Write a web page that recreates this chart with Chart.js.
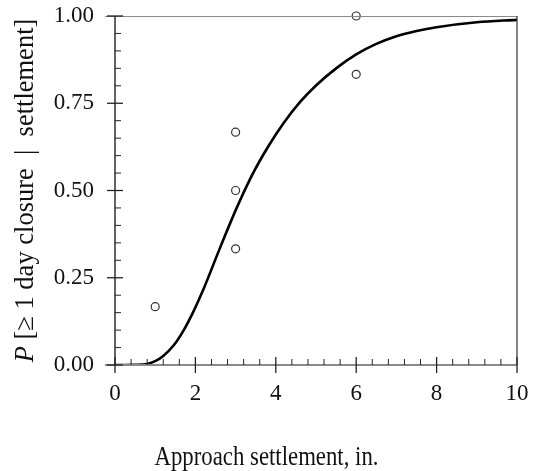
<!DOCTYPE html>
<html>
<head>
<meta charset="utf-8">
<script src="https://cdn.jsdelivr.net/npm/chart.js@4.4.1/dist/chart.umd.min.js"></script>
<style>
html,body{margin:0;padding:0;background:#fff;}
#wrap{width:533px;height:471px;}
</style>
</head>
<body>
<div id="wrap"><canvas id="c" width="533" height="471"></canvas></div>
<script>
// Observed proportions (open circles)
const obsX = [1, 3, 3, 3, 6, 6];
const obsY = [0.167, 0.333, 0.5, 0.667, 0.833, 1.0];

// Fitted curve
const curveX = [0, 0.5, 0.8, 1.0, 1.2, 1.45, 1.7, 1.95, 2.2, 2.6, 3.0, 3.4, 3.8, 4.2, 4.6, 5.0, 5.5, 6.0, 6.5, 7.0, 7.5, 8.0, 9.0, 10];
const curveY = [0, 0.0005, 0.003, 0.011, 0.026, 0.055, 0.098, 0.153, 0.217, 0.332, 0.443, 0.542, 0.624, 0.694, 0.753, 0.801, 0.850, 0.890, 0.920, 0.942, 0.957, 0.968, 0.982, 0.989];

// Axes
const xMajorTicks = [0, 2, 4, 6, 8, 10];
const xMinorStep = 0.4;
const yMajorTicks = [0, 0.25, 0.5, 0.75, 1.0];
const yMinorStep = 0.05;
const xTitle = 'Approach settlement, in.';
const yTitleItalic = 'P';
const yTitleRest = ' [≥ 1 day closure  |  settlement]';

const FONT = '"Liberation Serif", "Times New Roman", serif';

const framePlugin = {
  id: 'frame',
  afterDraw(chart) {
    const {ctx, chartArea: a, scales: {x, y}} = chart;
    ctx.save();
    ctx.lineCap = 'butt';
    ctx.strokeStyle = '#8a8a8a';
    ctx.lineWidth = 1.2;
    ctx.beginPath(); ctx.moveTo(a.left - 10, a.top + 0.5); ctx.lineTo(a.right, a.top + 0.5); ctx.stroke();
    ctx.lineWidth = 1.8;
    ctx.beginPath(); ctx.moveTo(a.left - 10, a.bottom); ctx.lineTo(a.right, a.bottom); ctx.stroke();
    ctx.strokeStyle = '#222';
    ctx.lineWidth = 1.4;
    ctx.beginPath(); ctx.moveTo(a.left, a.top); ctx.lineTo(a.left, a.bottom); ctx.stroke();
    ctx.strokeStyle = '#333';
    ctx.lineWidth = 1.2;
    ctx.beginPath(); ctx.moveTo(a.right, a.top); ctx.lineTo(a.right, a.bottom); ctx.stroke();

    ctx.strokeStyle = '#222';
    ctx.lineWidth = 1.3;
    xMajorTicks.forEach(v => {
      const px = x.getPixelForValue(v);
      ctx.beginPath(); ctx.moveTo(px, a.bottom - 8); ctx.lineTo(px, a.bottom + 8); ctx.stroke();
    });
    ctx.lineWidth = 1;
    for (let i = 0; i * xMinorStep <= x.max + 1e-9; i++) {
      const v = i * xMinorStep;
      if (xMajorTicks.some(m => Math.abs(m - v) < 1e-6)) continue;
      const px = x.getPixelForValue(v);
      ctx.beginPath(); ctx.moveTo(px, a.bottom); ctx.lineTo(px, a.bottom - 6); ctx.stroke();
    }
    ctx.lineWidth = 1.3;
    yMajorTicks.forEach(v => {
      const py = y.getPixelForValue(v);
      ctx.beginPath(); ctx.moveTo(a.left - 8, py); ctx.lineTo(a.left + 8, py); ctx.stroke();
    });
    ctx.lineWidth = 1;
    for (let i = 0; i * yMinorStep <= y.max + 1e-9; i++) {
      const v = i * yMinorStep;
      if (yMajorTicks.some(m => Math.abs(m - v) < 1e-6)) continue;
      const py = y.getPixelForValue(v);
      ctx.beginPath(); ctx.moveTo(a.left, py); ctx.lineTo(a.left + 6, py); ctx.stroke();
    }

    // x title (slightly condensed like the reference)
    ctx.fillStyle = '#111';
    ctx.textBaseline = 'alphabetic';
    ctx.font = '27px ' + FONT;
    const tw = ctx.measureText(xTitle).width;
    const targetW = 224;
    ctx.save();
    ctx.translate(chart.width / 2, 465);
    ctx.scale(targetW / tw, 1);
    ctx.textAlign = 'center';
    ctx.fillText(xTitle, 0, 0);
    ctx.restore();

    // y title (rotated, mixed italic)
    ctx.save();
    ctx.translate(33, (a.top + a.bottom) / 2);
    ctx.rotate(-Math.PI / 2);
    ctx.font = 'italic 26.5px ' + FONT;
    const w1 = ctx.measureText(yTitleItalic).width;
    ctx.font = '26.5px ' + FONT;
    const w2 = ctx.measureText(yTitleRest).width;
    const sx = -(w1 + w2) / 2;
    ctx.textAlign = 'left';
    ctx.font = 'italic 26.5px ' + FONT;
    ctx.fillText(yTitleItalic, sx, 0);
    ctx.font = '26.5px ' + FONT;
    ctx.fillText(yTitleRest, sx + w1, 0);
    ctx.restore();

    ctx.restore();
  }
};

const obsData = obsX.map((v, i) => ({x: v, y: obsY[i]}));
const curveData = curveX.map((v, i) => ({x: v, y: curveY[i]}));

new Chart(document.getElementById('c'), {
  type: 'scatter',
  data: {
    datasets: [
      {
        label: 'Observed',
        data: obsData,
        pointRadius: 4,
        pointBorderWidth: 1.2,
        pointBorderColor: '#333',
        pointBackgroundColor: '#fff',
        showLine: false,
        clip: false
      },
      {
        label: 'Fit',
        data: curveData,
        showLine: true,
        borderColor: '#000',
        borderWidth: 2.6,
        pointRadius: 0,
        cubicInterpolationMode: 'monotone',
        fill: false
      }
    ]
  },
  options: {
    responsive: false,
    animation: false,
    devicePixelRatio: 1,
    layout: {padding: {top: 16, right: 16, left: 0, bottom: 0}},
    plugins: {legend: {display: false}, tooltip: {enabled: false}},
    scales: {
      x: {
        type: 'linear', min: 0, max: 10,
        afterBuildTicks: s => { s.ticks = xMajorTicks.map(v => ({value: v})); },
        ticks: {font: {family: FONT, size: 23}, color: '#111', padding: 15, maxRotation: 0},
        grid: {display: false, drawTicks: false},
        border: {display: false},
        afterFit: s => { s.height = 106; s.paddingLeft = 0; s.paddingRight = 0; }
      },
      y: {
        type: 'linear', min: 0, max: 1,
        afterBuildTicks: s => { s.ticks = yMajorTicks.map(v => ({value: v})); },
        ticks: {font: {family: FONT, size: 23}, color: '#111', padding: 21, callback: v => Number(v).toFixed(2)},
        grid: {display: false, drawTicks: false},
        border: {display: false},
        afterFit: s => { s.width = 115; s.paddingTop = 0; s.paddingBottom = 0; }
      }
    }
  },
  plugins: [framePlugin]
});
</script>
</body>
</html>
